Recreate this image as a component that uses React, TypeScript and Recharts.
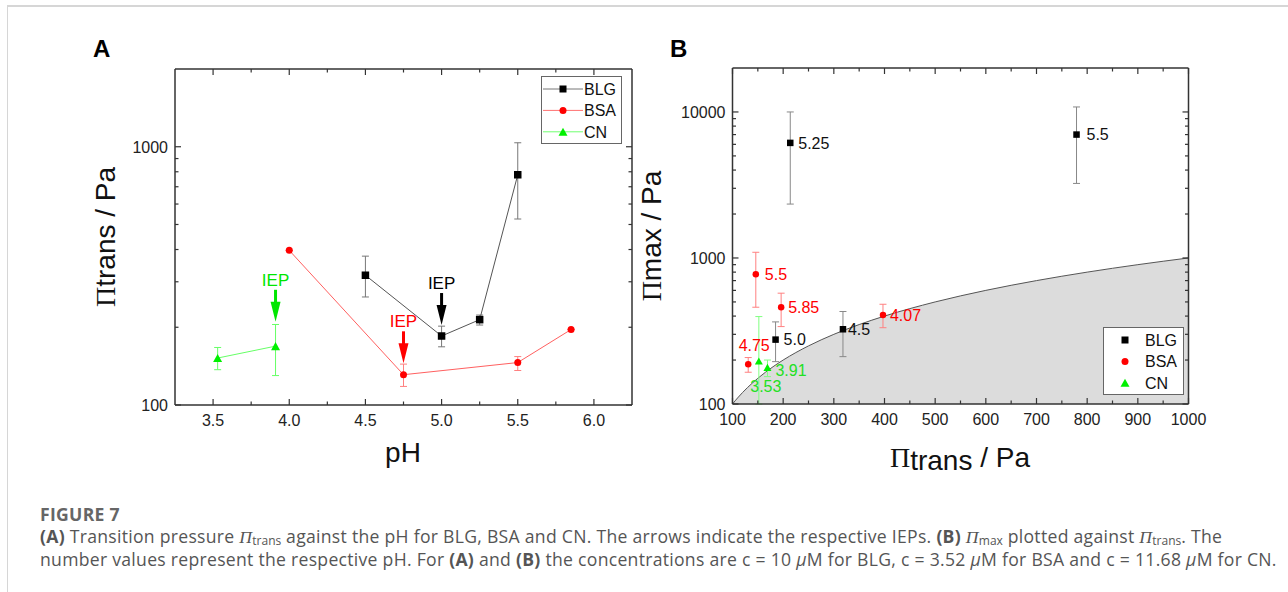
import React from "react";
import { ComposedChart, Scatter, XAxis, YAxis, ErrorBar, Area } from "recharts";

// ---- panel A: transition pressure vs pH ----
const blgPH = [4.5, 5.0, 5.25, 5.5];
const blgTrans = [318, 185, 214, 779];
const blgTransLo = [262, 168, 204, 525];
const blgTransHi = [377, 202, 223, 1036];

const bsaPH = [4.0, 4.75, 5.5, 5.85];
const bsaTrans = [397, 131, 146, 196];
const bsaTransLo = [397, 118, 136, 196];
const bsaTransHi = [397, 144, 154, 196];

const cnPH = [3.53, 3.91];
const cnTrans = [152, 169];
const cnTransLo = [137, 130];
const cnTransHi = [167, 205];

// IEP arrows: pH and the value the arrow tip points at
const iepBLG = [{ x: 5.0, y: 204 }];
const iepBSA = [{ x: 4.75, y: 145 }];
const iepCN = [{ x: 3.91, y: 210 }];

// ---- panel B: max pressure vs transition pressure ----
const blgMax = [325, 276, 6140, 7000];
const blgMaxLo = [211, 195, 2340, 3240];
const blgMaxHi = [430, 365, 10000, 10820];
const blgLabels = ["4.5", "5.0", "5.25", "5.5"];

const bsaMax = [407, 187, 773, 460];
const bsaMaxLo = [333, 165, 460, 339];
const bsaMaxHi = [482, 208, 1094, 574];
const bsaLabels = ["4.07", "4.75", "5.5", "5.85"];

const cnMax = [197, 178];
const cnMaxLo = [100, 154];
const cnMaxHi = [397, 200];
const cnLabels = ["3.53", "3.91"];

// boundary Πmax = Πtrans
const limitTrans = [100, 105, 110, 120, 130, 140, 150, 165, 180, 200, 225, 250, 300, 350, 400, 500, 600, 700, 800, 900, 1000];

// ticks
const phTicks = [3.5, 3.75, 4.0, 4.25, 4.5, 4.75, 5.0, 5.25, 5.5, 5.75, 6.0];
const phLabeled = [3.5, 4.0, 4.5, 5.0, 5.5, 6.0];
const transTicksA = [100, 200, 300, 400, 500, 600, 700, 800, 900, 1000];
const transLabeledA = [100, 1000];
const transTicksB = [100, 150, 200, 250, 300, 350, 400, 450, 500, 550, 600, 650, 700, 750, 800, 850, 900, 950, 1000];
const transLabeledB = [100, 200, 300, 400, 500, 600, 700, 800, 900, 1000];
const maxTicks = [100, 200, 300, 400, 500, 600, 700, 800, 900, 1000, 2000, 3000, 4000, 5000, 6000, 7000, 8000, 9000, 10000];
const maxLabeled = [100, 1000, 10000];

const legendNames = ["BLG", "BSA", "CN"];

const SANS = "'Liberation Sans', Arial, sans-serif";
const SERIF = "'Liberation Serif', 'Times New Roman', serif";
const BLACK = "#000";
const RED = "#ff0000";
const GREEN = "#00f000";
const AXIS = "#333";

// label offsets in panel B (dx, dy, anchor)
const labelPos: Record<string, [number, number, string]> = {
  "BLG:4.5": [5, 0, "start"],
  "BLG:5.0": [8, 0, "start"],
  "BLG:5.25": [8, 0, "start"],
  "BLG:5.5": [10, 0, "start"],
  "BSA:4.07": [7, 0, "start"],
  "BSA:4.75": [6, -19, "middle"],
  "BSA:5.5": [9, 0, "start"],
  "BSA:5.85": [7, 0, "start"],
  "CN:3.53": [7, 25, "middle"],
  "CN:3.91": [8, 3, "start"],
};

const rowsA = (ph: number[], v: number[], lo: number[], hi: number[]) =>
  ph.map((x, i) => ({ x, y: v[i], err: [v[i] - lo[i], hi[i] - v[i]] }));

const rowsB = (t: number[], m: number[], lo: number[], hi: number[], lab: string[]) =>
  t.map((x, i) => ({ x, y: m[i], err: [m[i] - lo[i], hi[i] - m[i]], label: lab[i] }));

const limitRows = limitTrans.map((v) => ({ x: v, y: v }));

type Kind = "square" | "circle" | "triangle";

function marker(kind: Kind, cx: number, cy: number, s: number, fill: string) {
  if (kind === "square") return <rect x={cx - s / 2} y={cy - s / 2} width={s} height={s} fill={fill} />;
  if (kind === "circle") return <circle cx={cx} cy={cy} r={s / 2} fill={fill} />;
  const h = s * 0.9;
  return <polygon points={`${cx - s / 2},${cy + h / 2} ${cx + s / 2},${cy + h / 2} ${cx},${cy - h / 2}`} fill={fill} />;
}

type Side = "bottom" | "top" | "left" | "right";

function axisTick(side: Side, labeled: number[], fmt: (v: number) => string) {
  return (props: any) => {
    const { x, y, payload } = props;
    const v = payload.value as number;
    const major = labeled.some((l) => Math.abs(l - v) < 1e-6);
    const len = major ? 6 : 3.5;
    let x2 = x;
    let y2 = y;
    if (side === "bottom") y2 = y - len;
    if (side === "top") y2 = y + len;
    if (side === "left") x2 = x + len;
    if (side === "right") x2 = x - len;
    return (
      <g>
        <line x1={x} y1={y} x2={x2} y2={y2} stroke={AXIS} strokeWidth={1.2} />
        {major && side === "bottom" && (
          <text x={x} y={y + 21} textAnchor="middle" fontSize={16} fill="#222" fontFamily={SANS}>
            {fmt(v)}
          </text>
        )}
        {major && side === "left" && (
          <text x={x - 7} y={y} dy="0.36em" textAnchor="end" fontSize={16} fill="#222" fontFamily={SANS}>
            {fmt(v)}
          </text>
        )}
      </g>
    );
  };
}

const shapeA = (kind: Kind, s: number, fill: string) => (p: any) => marker(kind, p.cx, p.cy, s, fill);

const shapeB = (kind: Kind, s: number, fill: string, textFill: string, series: string) => (p: any) => {
  const label = p.payload?.label as string;
  const [dx, dy, anchor] = labelPos[`${series}:${label}`] ?? [8, 0, "start"];
  return (
    <g>
      {marker(kind, p.cx, p.cy, s, fill)}
      <text x={p.cx + dx} y={p.cy + dy} dy="0.36em" textAnchor={anchor as any} fontSize={16} fill={textFill} fontFamily={SANS}>
        {label}
      </text>
    </g>
  );
};

const arrowShape = (color: string) => (p: any) => {
  const { cx, cy } = p;
  return (
    <g>
      <text x={cx} y={cy - 42} dy="0.36em" textAnchor="middle" fontSize={17} fill={color} fontFamily={SANS}>
        IEP
      </text>
      <rect x={cx - 1.5} y={cy - 32} width={3} height={13} fill={color} />
      <polygon points={`${cx - 5},${cy - 20} ${cx + 5},${cy - 20} ${cx},${cy}`} fill={color} />
    </g>
  );
};

function LegendBox({ left, top, withLine }: { left: number; top: number; withLine: boolean }) {
  const kinds: Kind[] = ["square", "circle", "triangle"];
  const fills = [BLACK, RED, GREEN];
  const lines = ["#777", "#ff7070", "#70ff70"];
  return (
    <svg style={{ position: "absolute", left, top }} width={82} height={70}>
      <rect x={0.5} y={0.5} width={80} height={67} fill="#fff" stroke="#666" strokeWidth={1} />
      {legendNames.map((name, i) => {
        const cy = 13 + 21.4 * i;
        return (
          <g key={name}>
            {withLine && <line x1={2} x2={42} y1={cy} y2={cy} stroke={lines[i]} strokeWidth={1} />}
            {marker(kinds[i], 22, cy, kinds[i] === "triangle" ? 9 : 7, fills[i])}
            <text x={withLine ? 43 : 42} y={cy} dy="0.36em" fontSize={16} fontFamily={SANS} fill="#111">
              {name}
            </text>
          </g>
        );
      })}
    </svg>
  );
}

const AX = 10; // thickness reserved by each axis

function PanelA() {
  const fmt = (v: number) => v.toFixed(1);
  const fmtY = (v: number) => String(v);
  const common = { tickSize: 0, tickMargin: 0, tickLine: false, interval: 0 as const, allowDataOverflow: true, axisLine: { stroke: AXIS, strokeWidth: 1.5 } };
  return (
    <ComposedChart width={660} height={480} margin={{ top: 69 - AX, left: 175 - AX, right: 28 - AX, bottom: 75 - AX }}>
      <XAxis xAxisId="b" dataKey="x" type="number" domain={[3.25, 6.25]} ticks={phTicks} height={AX} {...common}
        tick={axisTick("bottom", phLabeled, fmt)} />
      <XAxis xAxisId="t" orientation="top" dataKey="x" type="number" domain={[3.25, 6.25]} ticks={phTicks} height={AX} {...common}
        tick={axisTick("top", phLabeled, fmt)} />
      <YAxis yAxisId="l" dataKey="y" type="number" scale="log" domain={[100, 2000]} ticks={transTicksA} width={AX} {...common}
        tick={axisTick("left", transLabeledA, fmtY)} />
      <YAxis yAxisId="r" orientation="right" dataKey="y" type="number" scale="log" domain={[100, 2000]} ticks={transTicksA} width={AX} {...common}
        tick={axisTick("right", transLabeledA, fmtY)} />
      <Scatter xAxisId="b" yAxisId="l" data={rowsA(cnPH, cnTrans, cnTransLo, cnTransHi)} line={{ stroke: "#66ff66", strokeWidth: 1 }}
        lineType="joint" shape={shapeA("triangle", 9, GREEN)} isAnimationActive={false}>
        <ErrorBar dataKey="err" direction="y" width={3.5} stroke="#66ff66" strokeWidth={1} />
      </Scatter>
      <Scatter xAxisId="b" yAxisId="l" data={rowsA(bsaPH, bsaTrans, bsaTransLo, bsaTransHi)} line={{ stroke: "#ff6060", strokeWidth: 1 }}
        lineType="joint" shape={shapeA("circle", 7, RED)} isAnimationActive={false}>
        <ErrorBar dataKey="err" direction="y" width={3.5} stroke="#ff8080" strokeWidth={1} />
      </Scatter>
      <Scatter xAxisId="b" yAxisId="l" data={rowsA(blgPH, blgTrans, blgTransLo, blgTransHi)} line={{ stroke: "#555", strokeWidth: 1 }}
        lineType="joint" shape={shapeA("square", 7.5, BLACK)} isAnimationActive={false}>
        <ErrorBar dataKey="err" direction="y" width={3.5} stroke="#777" strokeWidth={1} />
      </Scatter>
      <Scatter xAxisId="b" yAxisId="l" data={iepCN} shape={arrowShape("#00e600")} isAnimationActive={false} />
      <Scatter xAxisId="b" yAxisId="l" data={iepBSA} shape={arrowShape(RED)} isAnimationActive={false} />
      <Scatter xAxisId="b" yAxisId="l" data={iepBLG} shape={arrowShape(BLACK)} isAnimationActive={false} />
    </ComposedChart>
  );
}

function PanelB() {
  const fmt = (v: number) => String(v);
  const common = { tickSize: 0, tickMargin: 0, tickLine: false, interval: 0 as const, allowDataOverflow: true, axisLine: { stroke: AXIS, strokeWidth: 1.5 } };
  return (
    <ComposedChart width={628} height={480} data={limitRows} margin={{ top: 68 - AX, left: 72.5 - AX, right: 99.5 - AX, bottom: 76 - AX }}>
      <XAxis xAxisId="b" dataKey="x" type="number" domain={[100, 1000]} ticks={transTicksB} height={AX} {...common}
        tick={axisTick("bottom", transLabeledB, fmt)} />
      <XAxis xAxisId="t" orientation="top" dataKey="x" type="number" domain={[100, 1000]} ticks={transTicksB} height={AX} {...common}
        tick={axisTick("top", transLabeledB, fmt)} />
      <YAxis yAxisId="l" dataKey="y" type="number" scale="log" domain={[100, 20000]} ticks={maxTicks} width={AX} {...common}
        tick={axisTick("left", maxLabeled, fmt)} />
      <YAxis yAxisId="r" orientation="right" dataKey="y" type="number" scale="log" domain={[100, 20000]} ticks={maxTicks} width={AX} {...common}
        tick={axisTick("right", maxLabeled, fmt)} />
      <Area xAxisId="b" yAxisId="l" type="monotone" dataKey="y" baseValue="dataMin" stroke="#555" strokeWidth={1}
        fill="#dcdcdc" fillOpacity={1} dot={false} activeDot={false} isAnimationActive={false} />
      <Scatter xAxisId="b" yAxisId="l" data={rowsB(cnTrans, cnMax, cnMaxLo, cnMaxHi, cnLabels)}
        shape={shapeB("triangle", 8, GREEN, "#22e022", "CN")} isAnimationActive={false}>
        <ErrorBar dataKey="err" direction="y" width={3.5} stroke="#80ff80" strokeWidth={1} />
      </Scatter>
      <Scatter xAxisId="b" yAxisId="l" data={rowsB(bsaTrans, bsaMax, bsaMaxLo, bsaMaxHi, bsaLabels)}
        shape={shapeB("circle", 6.5, RED, RED, "BSA")} isAnimationActive={false}>
        <ErrorBar dataKey="err" direction="y" width={3.5} stroke="#ff8080" strokeWidth={1} />
      </Scatter>
      <Scatter xAxisId="b" yAxisId="l" data={rowsB(blgTrans, blgMax, blgMaxLo, blgMaxHi, blgLabels)}
        shape={shapeB("square", 6.5, BLACK, "#111", "BLG")} isAnimationActive={false}>
        <ErrorBar dataKey="err" direction="y" width={3.5} stroke="#888" strokeWidth={1} />
      </Scatter>
    </ComposedChart>
  );
}

export default function App() {
  const sub = { fontSize: 12, lineHeight: 0, letterSpacing: 0, verticalAlign: "-2px" };
  return (
    <div style={{ position: "absolute", left: 0, top: 0, width: 1288, height: 592, overflow: "hidden", background: "#fff" }}>
      <div style={{ position: "absolute", left: 7, top: 5, width: 1300, height: 620, borderTop: "2px solid #d6d6d6", borderLeft: "1px solid #d6d6d6" }} />
      <div style={{ position: "absolute", left: 0, top: 0 }}>
        <PanelA />
      </div>
      <div style={{ position: "absolute", left: 660, top: 0 }}>
        <PanelB />
      </div>
      <LegendBox left={541} top={76} withLine />
      <LegendBox left={1103} top={327} withLine={false} />
      <svg style={{ position: "absolute", left: 0, top: 0, pointerEvents: "none" }} width={1288} height={500}>
        <text x={93} y={57} fontSize={24} fontWeight={700} fontFamily={SANS}>A</text>
        <text x={670} y={57} fontSize={24} fontWeight={700} fontFamily={SANS}>B</text>
        <text transform="translate(115,237) rotate(-90)" textAnchor="middle" fontSize={28} fontFamily={SANS} fill="#111">
          <tspan fontFamily={SERIF}>Π</tspan>trans / Pa
        </text>
        <text x={403} y={462} textAnchor="middle" fontSize={28} fontFamily={SANS} fill="#111">pH</text>
        <text transform="translate(661,236) rotate(-90)" textAnchor="middle" fontSize={28} fontFamily={SANS} fill="#111">
          <tspan fontFamily={SERIF}>Π</tspan>max / Pa
        </text>
        <text x={960} y={467} textAnchor="middle" fontSize={28} fontFamily={SANS} fill="#111">
          <tspan fontFamily={SERIF}>Π</tspan>
          <tspan dy={3}>trans</tspan>
          <tspan dy={-3}> / Pa</tspan>
        </text>
      </svg>
      <div style={{ position: "absolute", left: 40, top: 503, fontFamily: "'Open Sans', sans-serif", color: "#555", fontSize: 17.6, letterSpacing: 0.28, lineHeight: "22px", whiteSpace: "nowrap" }}>
        <div style={{ fontWeight: 700, color: "#666", fontSize: 17.6 }}>FIGURE 7</div>
        <div>
          <b>(A)</b> Transition pressure <i style={{ fontFamily: SERIF }}>Π</i><span style={sub}>trans</span> against the pH for BLG, BSA and CN. The arrows indicate the respective IEPs. <b>(B)</b>{" "}
          <i style={{ fontFamily: SERIF }}>Π</i><span style={sub}>max</span> plotted against <i style={{ fontFamily: SERIF }}>Π</i><span style={sub}>trans</span>. The
        </div>
        <div>
          number values represent the respective pH. For <b>(A)</b> and <b>(B)</b> the concentrations are c = 10 <i>μ</i>M for BLG, c = 3.52 <i>μ</i>M for BSA and c = 11.68 <i>μ</i>M for CN.
        </div>
      </div>
    </div>
  );
}
